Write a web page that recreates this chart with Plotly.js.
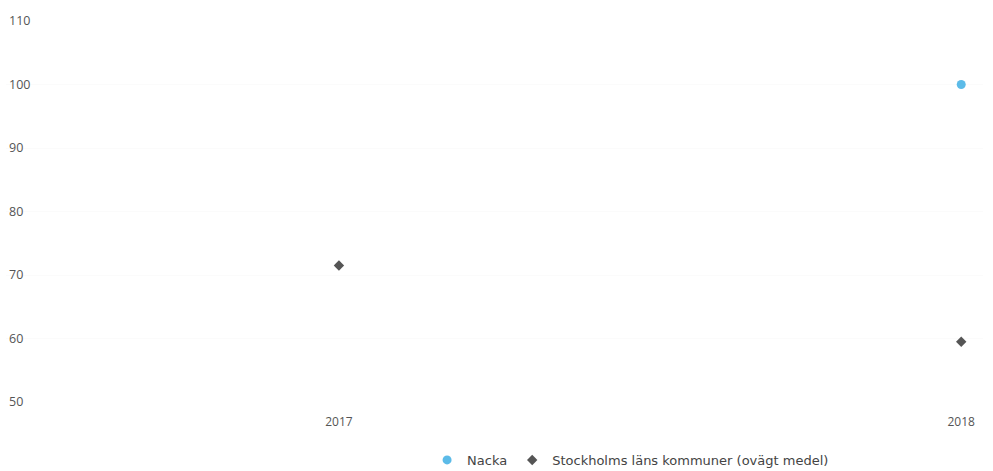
<!DOCTYPE html>
<html>
<head>
<meta charset="utf-8">
<script src="https://cdn.plot.ly/plotly-3.0.1.min.js"></script>
<style>html,body{margin:0;padding:0;background:#fff;}#chart{width:993px;height:471px;}</style>
</head>
<body>
<div id="chart"></div>
<script>
var years = ["2017", "2018"];
var nackaYears = ["2018"];
var nackaValues = [100];
var stockholmYears = ["2017", "2018"];
var stockholmValues = [71.5, 59.5];
var yTicks = [50, 60, 70, 80, 90, 100, 110];

var traces = [
  {
    type: "scatter", mode: "markers", name: "Nacka",
    x: nackaYears, y: nackaValues,
    marker: {symbol: "circle", size: 9, color: "#5cbbe8"},
    hoverinfo: "x+y+name"
  },
  {
    type: "scatter", mode: "markers", name: "Stockholms läns kommuner (ovägt medel)",
    x: stockholmYears, y: stockholmValues,
    marker: {symbol: "diamond", size: 8, color: "#555555"},
    hoverinfo: "x+y+name"
  }
];

var layout = {
  width: 993, height: 471,
  margin: {l: 6, r: 10, t: 21, b: 69},
  paper_bgcolor: "#ffffff", plot_bgcolor: "#ffffff",
  font: {family: "'Open Sans', sans-serif", size: 12, color: "#555555"},
  showlegend: true,
  xaxis: {
    type: "category", categoryorder: "array", categoryarray: years,
    range: [-0.535, 1.035], automargin: false,
    showgrid: false, zeroline: false, showline: false, ticks: "",
    ticklabelstandoff: 11,
    tickfont: {family: "'Open Sans', sans-serif", size: 12, color: "#555555"},
    fixedrange: true
  },
  yaxis: {
    range: [50, 110], tickvals: yTicks, ticktext: yTicks.map(String), automargin: false,
    showgrid: true, gridcolor: "#fbfbfb", zeroline: false, showline: false, ticks: "",
    ticklabelposition: "inside", ticklabeloverflow: "allow",
    tickfont: {family: "'Open Sans', sans-serif", size: 12.5, color: "#555555"},
    fixedrange: true
  },
  legend: {
    orientation: "h", x: 0.431, xanchor: "left",
    yref: "container", y: 0.0234, yanchor: "middle",
    font: {family: "DejaVu Sans", size: 13, color: "#444444"},
    itemwidth: 30, bgcolor: "rgba(0,0,0,0)"
  }
};

Plotly.newPlot("chart", traces, layout, {displayModeBar: false, responsive: false});
</script>
</body>
</html>
